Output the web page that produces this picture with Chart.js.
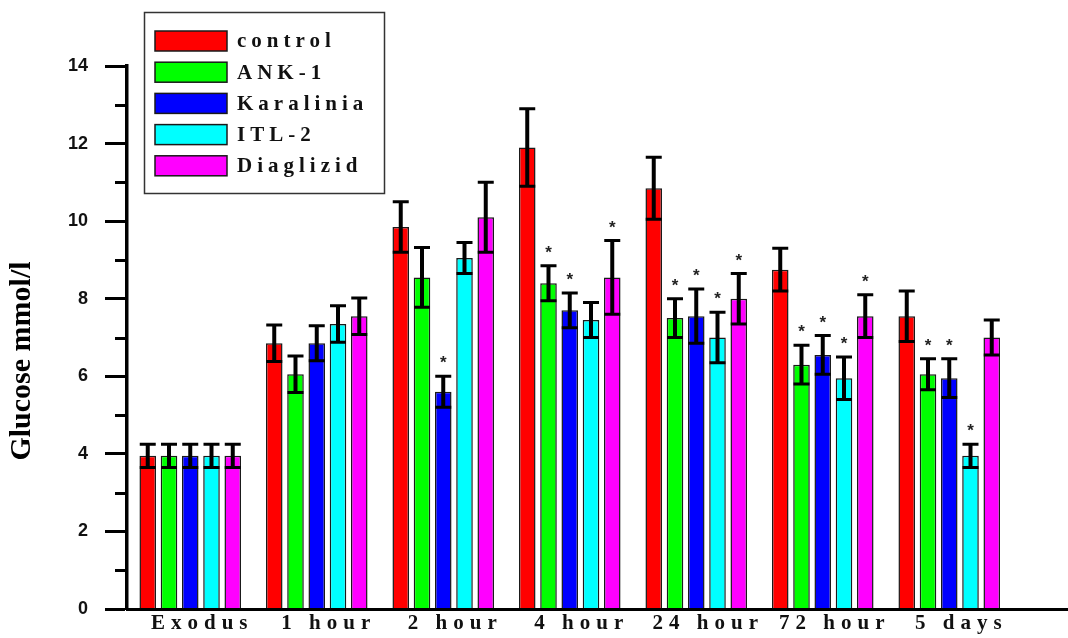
<!DOCTYPE html>
<html>
<head>
<meta charset="utf-8">
<script src="https://cdn.jsdelivr.net/npm/chart.js@4.4.0/dist/chart.umd.min.js"></script>
<style>
  html, body { margin: 0; padding: 0; background: #fff; }
</style>
</head>
<body>
<canvas id="glucoseChart" width="1068" height="638"></canvas>
<script>
// data
const categories = ['Exodus', '1 hour', '2 hour', '4 hour', '24 hour', '72 hour', '5 days'];
const seriesNames = ['control', 'ANK-1', 'Karalinia', 'ITL-2', 'Diaglizid'];

const control        = [3.95, 6.85, 9.85, 11.9, 10.85, 8.75, 7.55];
const controlErr     = [0.3, 0.47, 0.65, 1.0, 0.8, 0.55, 0.65];
const ank1           = [3.95, 6.05, 8.55, 8.4, 7.5, 6.3, 6.05];
const ank1Err        = [0.3, 0.47, 0.77, 0.45, 0.5, 0.5, 0.4];
const karalinia      = [3.95, 6.85, 5.6, 7.7, 7.55, 6.55, 5.95];
const karaliniaErr   = [0.3, 0.45, 0.4, 0.45, 0.7, 0.5, 0.5];
const itl2           = [3.95, 7.35, 9.05, 7.45, 7.0, 5.95, 3.95];
const itl2Err        = [0.3, 0.47, 0.4, 0.45, 0.65, 0.55, 0.3];
const diaglizid      = [3.95, 7.55, 10.1, 8.55, 8.0, 7.55, 7.0];
const diaglizidErr   = [0.3, 0.47, 0.9, 0.95, 0.65, 0.55, 0.45];

// significance stars (*)
const controlSig   = [0, 0, 0, 0, 0, 0, 0];
const ank1Sig      = [0, 0, 0, 1, 1, 1, 1];
const karaliniaSig = [0, 0, 1, 1, 1, 1, 1];
const itl2Sig      = [0, 0, 0, 0, 1, 1, 1];
const diaglizidSig = [0, 0, 0, 1, 1, 1, 0];

const yTickLabels = ['0', '2', '4', '6', '8', '10', '12', '14'];
const yTitle = 'Glucose mmol/l';

const colors = ['#ff0000', '#00ff00', '#0000ff', '#00ffff', '#ff00ff'];
const values = [control, ank1, karalinia, itl2, diaglizid];
const errs = [controlErr, ank1Err, karaliniaErr, itl2Err, diaglizidErr];
const sigs = [controlSig, ank1Sig, karaliniaSig, itl2Sig, diaglizidSig];

const datasets = seriesNames.map((name, i) => ({
    label: name,
    data: values[i],
    errors: errs[i],
    marks: sigs[i],
    backgroundColor: colors[i],
    borderColor: '#1a1a1a',
    borderWidth: 1.5,
    categoryPercentage: 0.84,
    barPercentage: 0.78
}));

// error bars + stars
const errorBars = {
    id: 'errorBars',
    beforeDraw(chart) {
        chart.ctx.letterSpacing = '0px';
    },
    afterDatasetsDraw(chart) {
        const ctx = chart.ctx, y = chart.scales.y;
        chart.data.datasets.forEach((ds, i) => {
            chart.getDatasetMeta(i).data.forEach((bar, j) => {
                const v = ds.data[j], e = ds.errors[j];
                const top = y.getPixelForValue(v + e);
                const bot = y.getPixelForValue(v - e);
                ctx.save();
                ctx.strokeStyle = '#000';
                ctx.lineWidth = 4;
                ctx.beginPath();
                ctx.moveTo(bar.x, top);
                ctx.lineTo(bar.x, bot);
                ctx.stroke();
                ctx.lineWidth = 3;
                ctx.beginPath();
                ctx.moveTo(bar.x - 8, top); ctx.lineTo(bar.x + 8, top);
                ctx.moveTo(bar.x - 8, bot); ctx.lineTo(bar.x + 8, bot);
                ctx.stroke();
                if (ds.marks[j]) {
                    ctx.fillStyle = '#222';
                    ctx.font = 'bold 17px "Liberation Sans"';
                    ctx.textAlign = 'center';
                    ctx.textBaseline = 'alphabetic';
                    ctx.fillText('*', bar.x, top - 8);
                }
                ctx.restore();
            });
        });
        // x labels are drawn after this with wide spacing
        ctx.letterSpacing = '6px';
    }
};

// minor ticks, long x axis, title, boxed legend
const decorations = {
    id: 'decorations',
    afterDraw(chart) {
        const ctx = chart.ctx, a = chart.chartArea, y = chart.scales.y;
        ctx.save();
        ctx.letterSpacing = '0px';
        ctx.strokeStyle = '#000';
        ctx.lineWidth = 3;
        ctx.beginPath();
        for (let v = 1; v < 14; v += 2) {
            const py = Math.round(y.getPixelForValue(v)) + 0.5;
            ctx.moveTo(a.left - 12, py);
            ctx.lineTo(a.left, py);
        }
        ctx.moveTo(a.left, a.bottom + 0.5);
        ctx.lineTo(chart.width, a.bottom + 0.5);
        ctx.stroke();

        ctx.translate(22.5, 361);
        ctx.rotate(-Math.PI / 2);
        ctx.fillStyle = '#000';
        ctx.font = 'bold 30px "Liberation Serif"';
        ctx.textAlign = 'center';
        ctx.textBaseline = 'middle';
        ctx.fillText(yTitle, 0, 0);
        ctx.restore();

        // legend
        ctx.save();
        ctx.strokeStyle = '#333';
        ctx.lineWidth = 1.5;
        ctx.strokeRect(144.5, 12.5, 240, 181);
        ctx.font = 'bold 21px "Liberation Serif"';
        ctx.textBaseline = 'middle';
        ctx.letterSpacing = '5px';
        chart.data.datasets.forEach((ds, i) => {
            const top = 31 + i * 31.2;
            ctx.fillStyle = ds.backgroundColor;
            ctx.fillRect(155, top, 72, 20);
            ctx.strokeStyle = '#1a1a1a';
            ctx.strokeRect(155, top, 72, 20);
            ctx.fillStyle = '#111';
            ctx.fillText(ds.label, 237, top + 11);
        });
        ctx.letterSpacing = '0px';
        ctx.restore();
    }
};

const ctx = document.getElementById('glucoseChart').getContext('2d');
const glucoseChart = new Chart(ctx, {
    type: 'bar',
    data: { labels: categories, datasets: datasets },
    plugins: [errorBars, decorations],
    options: {
        responsive: false,
        animation: false,
        layout: { padding: { top: 66, right: 55.5, bottom: 0, left: 0 } },
        plugins: {
            legend: { display: false },
            tooltip: { enabled: false }
        },
        scales: {
            x: {
                afterFit(scale) { scale.height = 29; },
                grid: { display: false, drawTicks: false },
                border: { display: true, color: '#000', width: 3, z: 1 },
                ticks: {
                    z: 1,
                    padding: 2,
                    labelOffset: 12,
                    color: '#111',
                    maxRotation: 0,
                    autoSkip: false,
                    font: { family: 'Liberation Serif', size: 21, weight: 'bold' }
                }
            },
            y: {
                min: 0,
                max: 14,
                afterFit(scale) { scale.width = 127; },
                grid: {
                    drawOnChartArea: false,
                    drawTicks: true,
                    tickLength: 22,
                    tickWidth: 3,
                    tickColor: (c) => (c.tick && c.tick.value % 2 === 0) ? '#000' : 'rgba(0,0,0,0)'
                },
                border: { display: true, color: '#000', width: 3.5 },
                ticks: {
                    stepSize: 1,
                    padding: 17,
                    color: '#111',
                    font: { family: 'Liberation Sans', size: 18, weight: 'bold' },
                    callback: (v) => (v % 2 === 0) ? yTickLabels[v / 2] : ''
                }
            }
        }
    }
});
</script>
</body>
</html>
